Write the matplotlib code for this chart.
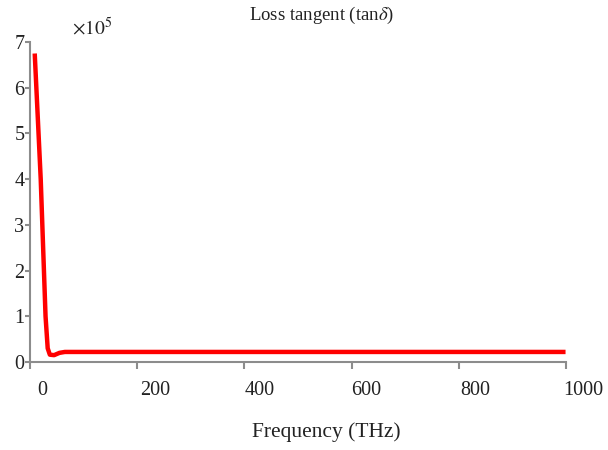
import numpy as np
import matplotlib.pyplot as plt
import matplotlib.transforms as mtransforms

plt.rcParams['font.family'] = ['Liberation Serif', 'DejaVu Serif']
plt.rcParams['mathtext.fontset'] = 'stix'

# loss tangent vs frequency (values in units of 1e5)
freq = [9, 20, 26, 29, 33, 37, 45, 55, 65, 995]
tan_delta = [6.70, 4.0, 2.0, 1.0, 0.3, 0.16, 0.15, 0.2, 0.22, 0.22]

x_ticks = [0, 200, 400, 600, 800, 1000]
y_ticks = [0, 1, 2, 3, 4, 5, 6, 7]

axis_col = '#8c8c8c'
text_col = '#222222'

fig = plt.figure(figsize=(6.08, 4.5), dpi=100)
ax = fig.add_axes([30/608, 1 - 362/450, 536/608, 320/450])

ax.plot(freq, tan_delta, color='#ff0000', lw=3.2, solid_joinstyle='round')

ax.set_xlim(0, 1000)
ax.set_ylim(0, 7)
ax.set_xticks(x_ticks)
ax.set_yticks(y_ticks)

for s in ['top', 'right']:
    ax.spines[s].set_visible(False)
for s in ['left', 'bottom']:
    ax.spines[s].set_color(axis_col)
    ax.spines[s].set_linewidth(1.5)

ax.tick_params(axis='both', colors=axis_col, labelcolor=text_col, labelsize=14.5,
               width=1.5, direction='out')
ax.tick_params(axis='x', pad=9, length=5)
ax.tick_params(axis='y', pad=0.5, length=3.5)

# tick labels sit a little right of their ticks
shifts = [12, 18, 15, 15, 16, 17]
for lab, dx in zip(ax.get_xticklabels(), shifts):
    lab.set_transform(lab.get_transform() + mtransforms.ScaledTranslation(dx/100, 0, fig.dpi_scale_trans))

# exponent of the y axis
ax.text(0.078, 1.01, r'$\times 10^5$', transform=ax.transAxes, fontsize=14,
        color=text_col, ha='left', va='bottom')

fig.text(322/608, 1 - 15/450, r'Loss tangent (tan$\delta$)', fontsize=13.5,
         color=text_col, ha='center', va='center')
fig.text(326/608, 1 - 432/450, 'Frequency (THz)', fontsize=15.5,
         color=text_col, ha='center', va='center')

fig.savefig('out.png', dpi=100)
